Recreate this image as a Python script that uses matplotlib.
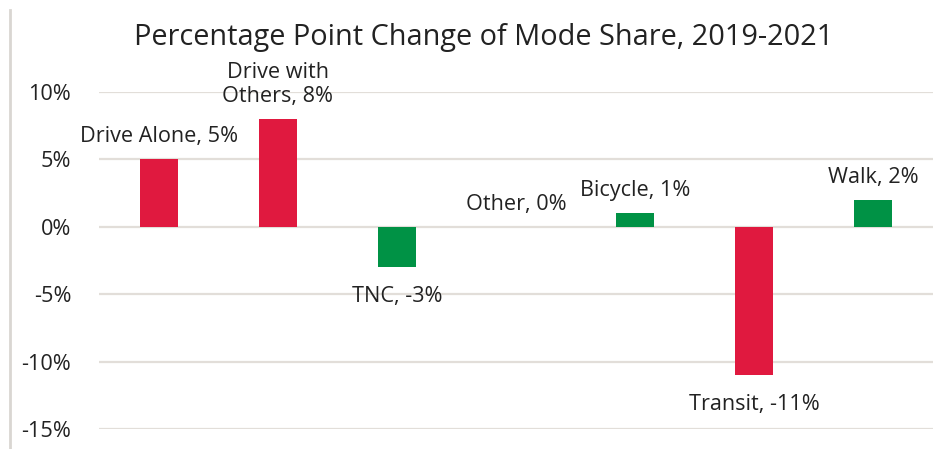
import matplotlib
matplotlib.use('Agg')
import matplotlib.pyplot as plt
from matplotlib.lines import Line2D
import numpy as np

# data
modes = ['Drive Alone', 'Drive with\nOthers', 'TNC', 'Other', 'Bicycle', 'Transit', 'Walk']
change = [5, 8, -3, 0, 1, -11, 2]
bar_colors = ['#E0193F', '#E0193F', '#009245', '#009245', '#009245', '#E0193F', '#009245']
y_ticks = [-15, -10, -5, 0, 5, 10]

GRID = '#E2DED9'
TXT = '#222222'

plt.rcParams['font.family'] = ['Open Sans', 'DejaVu Sans']

fig = plt.figure(figsize=(9.49, 4.49), dpi=100)
ax = fig.add_axes([99/949, 1-429/449, 834/949, 337/449])

x = np.arange(len(modes))
ax.bar(x, change, width=0.32, color=bar_colors, zorder=3)

ax.set_xlim(-0.5, len(modes)-0.5)
ax.set_ylim(-15, 10)
ax.set_yticks(y_ticks)
ax.set_yticklabels(['{}%'.format(t) for t in y_ticks])
ax.set_xticks([])
ax.yaxis.grid(True, color=GRID, lw=1.6, zorder=0)
ax.tick_params(axis='y', length=0, pad=20, labelsize=15.6, labelcolor=TXT)
for s in ax.spines.values():
    s.set_visible(False)

for xi, v, name in zip(x, change, modes):
    lab = '{}, {}%'.format(name, v)
    if v >= 0:
        ax.annotate(lab, (xi, v), xytext=(0, 12), textcoords='offset pixels',
                    ha='center', va='bottom', fontsize=15.6, color=TXT,
                    annotation_clip=False, linespacing=1.2)
    else:
        ax.annotate(lab, (xi, v), xytext=(0, -19), textcoords='offset pixels',
                    ha='center', va='top', fontsize=15.6, color=TXT,
                    annotation_clip=False)

fig.text(484/949, 1-38/449, 'Percentage Point Change of Mode Share, 2019-2021',
         ha='center', va='center', fontsize=20.8, color=TXT)

# thin frame line on the left edge
fig.add_artist(Line2D([10/949, 10/949], [0, 1-10/449], transform=fig.transFigure,
                      color='#D9D6D2', lw=2))

fig.savefig('out.png', dpi=100)
